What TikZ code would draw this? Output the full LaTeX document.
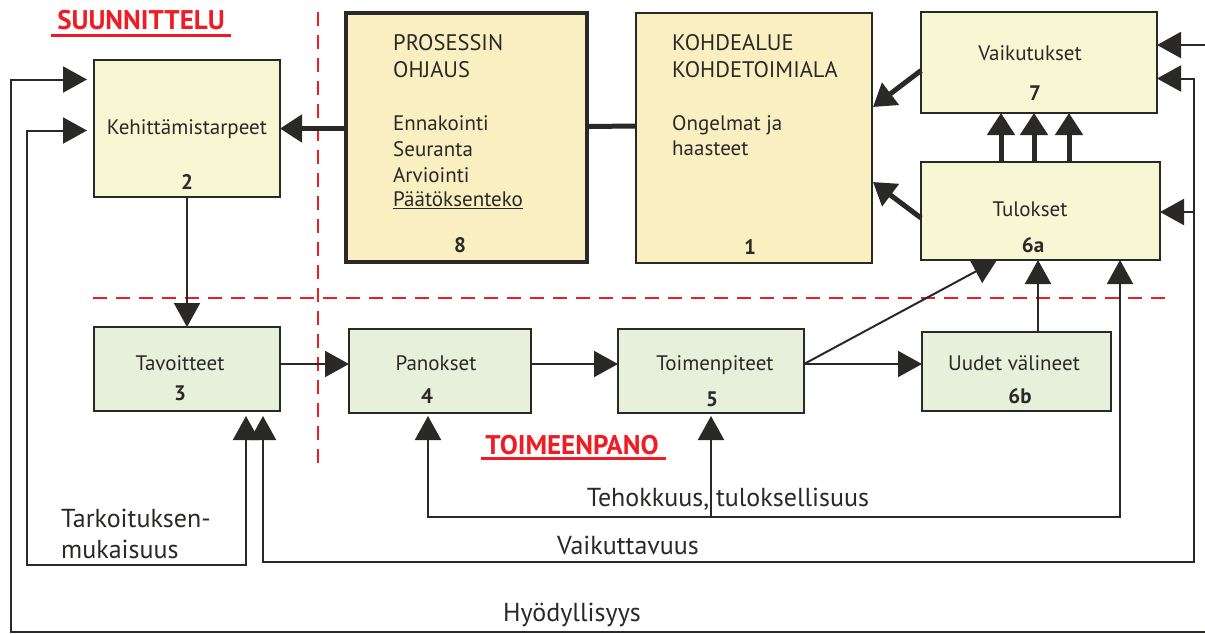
\documentclass[tikz,border=0pt]{standalone}
\usepackage{fontspec}
\setmainfont{PT Sans}
\usetikzlibrary{arrows.meta,calc}
\definecolor{dark}{HTML}{2A2927}
\definecolor{yel}{HTML}{F7F7D3}
\definecolor{beige}{HTML}{F9EFC1}
\definecolor{grn}{HTML}{E7F0DA}
\definecolor{redc}{HTML}{EE1C25}
\tikzset{
  box/.style={draw=dark, line width=2.2pt, inner sep=0pt, outer sep=0pt},
  heavybox/.style={draw=dark, line width=4.5pt, inner sep=0pt, outer sep=0pt},
  lbl/.style={inner sep=0pt, text height=14.5pt, text depth=0pt, text=dark, font=\fontsize{21}{24}\selectfont},
  lnw/.style={anchor=west, inner sep=0pt, text height=14.5pt, text depth=0pt, text=dark, font=\fontsize{21}{24}\selectfont},
  capw/.style={anchor=west, inner sep=0pt, text height=15.5pt, text depth=0pt, text=dark, font=\fontsize{22.5}{26}\selectfont},
  num/.style={inner sep=0pt, text height=14.7pt, text depth=0pt, text=dark, font=\fontsize{21}{24}\selectfont\bfseries},
  biglbl/.style={inner sep=0pt, text height=18pt, text depth=0pt, text=dark, font=\fontsize{26}{30}\selectfont},
  redtitle/.style={inner sep=0pt, text height=19pt, text depth=0pt, text=redc, font=\fontsize{27}{31}\selectfont\bfseries},
  conn/.style={draw=dark, line width=2pt, -{Triangle[length=24pt,width=26pt]}},
  thk/.style={draw=dark, line width=5pt, -{Triangle[length=22pt,width=27pt]}},
  divider/.style={draw=redc, line width=2.5pt, dash pattern=on 14pt off 9pt},
}
\begin{document}
\begin{tikzpicture}[x=1pt,y=-1pt]
\useasboundingbox (0,0) rectangle (1205,633);
\fill[white] (0,0) rectangle (1205,633);

% dividers
\draw[divider] (318,12) -- (318,472);
\draw[divider] (93,298) -- (1170,298);

% helper coordinates
\coordinate (rowA) at (0,364);
\coordinate (x1001) at (1001,0);
\coordinate (x1034) at (1034,0);
\coordinate (x1069) at (1069,0);
\coordinate (x997) at (997,0);
\coordinate (x1038) at (1038,0);
\coordinate (x1120) at (1120,0);
\coordinate (x428) at (428,0);
\coordinate (x711) at (711,0);
\coordinate (x246) at (246,0);
\coordinate (x263) at (263,0);
\coordinate (x1194) at (1194,0);
\coordinate (x27) at (27,0);
\coordinate (x11) at (11,0);
\coordinate (yT) at (0,517);
\coordinate (yV) at (0,562);
\coordinate (yK) at (0,565);
\coordinate (yH) at (0,632);
\coordinate (rightH) at (1205,632);
\coordinate (rightTop) at (1205,45);

% boxes
\node[box, fill=yel, minimum width=186pt, minimum height=137pt] (b2) at (187,128.5) {};
\node[heavybox, fill=beige, minimum width=241pt, minimum height=249pt] (b8) at (466.5,137.5) {};
\node[box, fill=beige, minimum width=236pt, minimum height=250pt] (b1) at (754,138) {};
\node[box, fill=yel, minimum width=236pt, minimum height=101pt] (b7) at (1039,62.5) {};
\node[box, fill=yel, minimum width=239pt, minimum height=98pt] (b6a) at (1040.5,211) {};
\node[box, fill=grn, minimum width=186pt, minimum height=84pt] (b3) at (187,369) {};
\node[box, fill=grn, minimum width=182pt, minimum height=84pt] (b4) at (440,371) {};
\node[box, fill=grn, minimum width=186pt, minimum height=84pt] (b5) at (711,371) {};
\node[box, fill=grn, minimum width=189pt, minimum height=79pt] (b6b) at (1016.5,371.5) {};

% box texts
\node[lbl] (t2) at (187,127) {Kehittämistarpeet};
\node[num] (n2) at (187,182) {2};
\node[capw] (t8a) at (393,43) {PROSESSIN};
\node[capw] (t8b) at (393,70) {OHJAUS};
\node[lnw] (t8c) at (393,123) {Ennakointi};
\node[lnw] (t8d) at (393,149) {Seuranta};
\node[lnw] (t8e) at (393,175) {Arviointi};
\node[lnw] (t8f) at (393,199) {\underline{Päätöksenteko}};
\node[num] (n8) at (460,245) {8};
\node[capw] (t1a) at (672,43) {KOHDEALUE};
\node[capw] (t1b) at (672,70) {KOHDETOIMIALA};
\node[lnw] (t1c) at (672,123) {Ongelmat ja};
\node[lnw] (t1d) at (672,148) {haasteet};
\node[num] (n1) at (750,247) {1};
\node[lbl] (t7) at (1030,53) {Vaikutukset};
\node[num] (n7) at (1035,93) {7};
\node[lbl] (t6a) at (1030,209) {Tulokset};
\node[num] (n6a) at (1033,245) {6a};
\node[lbl] (t3) at (180,363) {Tavoitteet};
\node[num] (n3) at (180,393) {3};
\node[lbl] (t4) at (436,363) {Panokset};
\node[num] (n4) at (427,396) {4};
\node[lbl] (t5) at (715,363) {Toimenpiteet};
\node[num] (n5) at (712,399) {5};
\node[lbl] (t6b) at (1014,363) {Uudet välineet};
\node[num] (n6b) at (1020,396) {6b};

% section titles
\node[redtitle] (suun) at (141,20) {SUUNNITTELU};
\draw[redc, line width=3pt] (51,35) -- (231,35);
\node[redtitle] (toim) at (572,445) {TOIMEENPANO};
\draw[redc, line width=3pt] (481,458) -- (666,458);

% thick connectors
\draw[thk] (b2.east -| b8.west) -- (b2.east);
\draw[draw=dark, line width=5pt] ($(b8.east)+(0,-11)$) -- ($(b1.west)+(0,-12)$);
\draw[thk] ($(b7.west)+(0,8)$) -- ($(b1.east)+(1,-31)$);
\draw[thk] ($(b6a.west)+(0,7)$) -- ($(b1.east)+(1,44)$);
\draw[thk] (b6a.north -| x1001) -- (b7.south -| x1001);
\draw[thk] (b6a.north -| x1034) -- (b7.south -| x1034);
\draw[thk] (b6a.north -| x1069) -- (b7.south -| x1069);

% thin connectors
\draw[conn] (b2.south) -- (b3.north);
\draw[conn] (b3.east |- rowA) -- (b4.west |- rowA);
\draw[conn] (b4.east |- rowA) -- (b5.west |- rowA);
\draw[conn] (b5.east |- rowA) -- (b6b.west |- rowA);
\draw[conn] (b5.east |- rowA) -- (b6a.south -| x997);
\draw[conn] (b6b.north -| x1038) -- (b6a.south -| x1038);

% Tehokkuus loop
\draw[conn, {Triangle[length=24pt,width=26pt]}-{Triangle[length=24pt,width=26pt]}, shorten <=3pt]
  (b4.south -| x428) -- (x428 |- yT) -- (x1120 |- yT) -- (b6a.south -| x1120);
\draw[conn, shorten >=3pt] (x711 |- yT) -- (b5.south -| x711);

% Vaikuttavuus loop
\draw[conn, {Triangle[length=24pt,width=26pt]}-{Triangle[length=24pt,width=26pt]}, shorten <=5pt]
  (b3.south -| x263) -- (x263 |- yV) -- (x1194 |- yV) -- ($(x1194 |- b7.east)+(0,16)$) -- ($(b7.east)+(0,16)$);
\draw[conn] ($(x1194 |- b6a.east)+(0,1)$) -- ($(b6a.east)+(0,1)$);

% Tarkoituksenmukaisuus loop
\draw[conn, {Triangle[length=24pt,width=26pt]}-{Triangle[length=24pt,width=26pt]}, shorten <=5pt, shorten >=7pt]
  (b3.south -| x246) -- (x246 |- yK) -- (x27 |- yK) -- ($(x27 |- b2.west)+(0,2)$) -- ($(b2.west)+(0,2)$);

% Hyödyllisyys loop
\draw[conn, shorten >=7pt] (rightH) -- (x11 |- yH) -- ($(x11 |- b2.west)+(0,-49)$) -- ($(b2.west)+(0,-49)$);
\draw[conn] (rightTop) -- (b7.east |- rightTop);

% loop labels
\node[biglbl] (lT) at (728,497) {Tehokkuus, tuloksellisuus};
\node[biglbl] (lV) at (628,545) {Vaikuttavuus};
\node[biglbl, anchor=west] (lK1) at (61,518) {Tarkoituksen-};
\node[biglbl, anchor=west] (lK2) at (61,549) {mukaisuus};
\node[biglbl] (lH) at (572,612) {Hyödyllisyys};
\end{tikzpicture}
\end{document}
